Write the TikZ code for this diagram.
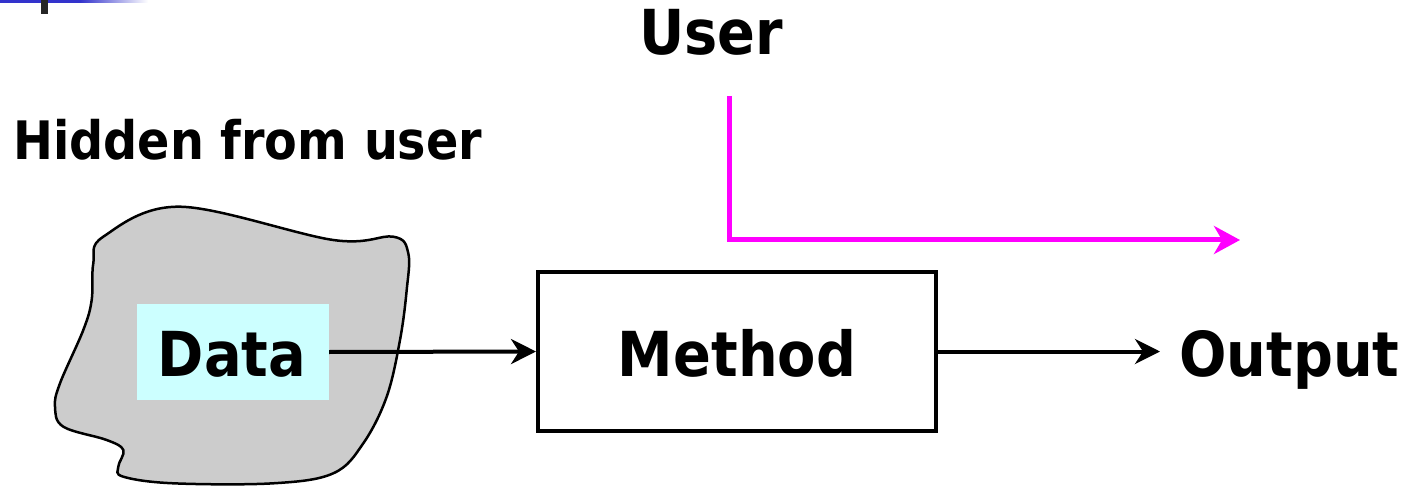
\documentclass[tikz,border=0pt]{standalone}
\usepackage{fontspec}
\newfontfamily\tah{DejaVu Sans}[FakeStretch=0.9]
\usetikzlibrary{arrows.meta}
\definecolor{blobgray}{HTML}{CCCCCC}
\definecolor{datacyan}{HTML}{CCFFFF}
\definecolor{usermag}{HTML}{FF00FF}
\definecolor{slideblue}{HTML}{3333CC}
\tikzset{
  lbl/.style={inner sep=0pt, font=\tah\bfseries\fontsize{62}{74}\selectfont},
  blackarrow/.style={line width=4pt, -{Stealth[length=25pt, width=25pt, inset=8pt]}},
  magarrow/.style={line width=5pt, usermag, -{Stealth[length=26pt, width=28pt, inset=8pt]}},
}
\begin{document}
\begin{tikzpicture}[x=1pt, y=-1pt]
\useasboundingbox (0,0) rectangle (1412,486);
% slide decoration
\fill[slideblue] (0,0) rectangle (80,3);
\shade[left color=slideblue, right color=white] (80,0) rectangle (148,3);
\fill[black!85] (41,0) rectangle (48,14);
% blob
\draw[line width=2.5pt, fill=blobgray] plot[smooth cycle, tension=0.6] coordinates {
 (103.3,236.7) (180,206.7) (333.3,240) (393.3,236.7) (408.3,253.3) (406.7,290)
 (400,340) (386.7,396.7) (363.3,443.3) (333.3,473.3) (273.3,483.3) (173.3,483.3)
 (123.3,476.7) (118.3,466.7) (123.3,450) (106.7,440) (63.3,426.7) (55,406.7)
 (60,383.3) (83.3,330) (91.7,300) (93.3,263.3)};
% texts
\node[lbl, anchor=base] (user) at (711,55) {User};
\node[lbl, anchor=base west, font=\tah\bfseries\fontsize{53}{63}\selectfont] (hidden) at (13,160) {Hidden from user};
\node[fill=datacyan, inner sep=0pt, minimum width=192pt, minimum height=96pt] (databox) at (233,352) {};
\node[lbl, anchor=base] (data) at (232,376) {Data};
\node[draw, line width=4pt, minimum width=398pt, minimum height=159pt, inner sep=0pt] (method) at (737,351.5) {};
\node[lbl, anchor=base] (mtext) at (737,376) {Method};
\node[lbl, anchor=base west] (output) at (1179,376) {Output};
% connectors
\draw[blackarrow] (databox.east) -- (method.west);
\draw[blackarrow] (method.east) -- (1160,351.5) coordinate (outtip);
\coordinate (u1) at (729,96);
\coordinate (u2) at (1240,240);
\draw[magarrow] (u1) |- (u2);
\end{tikzpicture}
\end{document}
